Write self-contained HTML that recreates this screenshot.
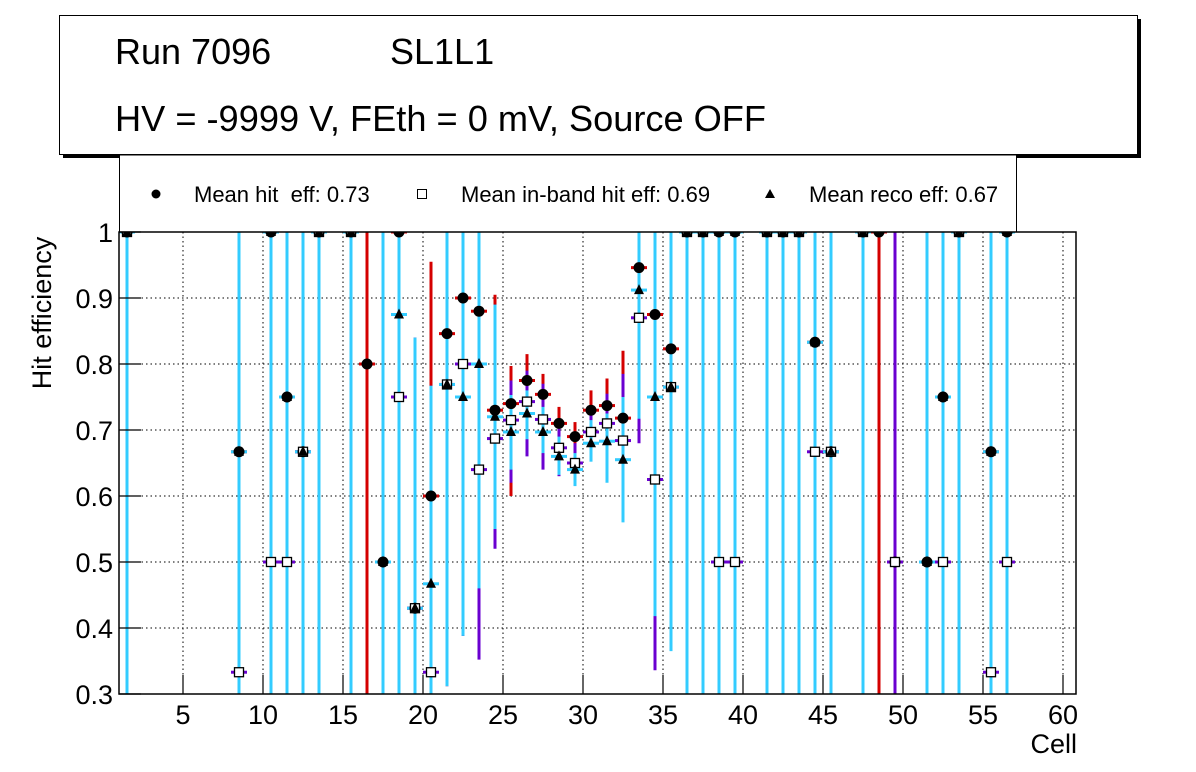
<!DOCTYPE html>
<html><head><meta charset="utf-8"><style>
html,body{margin:0;padding:0;background:#fff;width:1196px;height:772px;overflow:hidden;}
svg{display:block;font-family:"Liberation Sans",Arial,sans-serif;}
</style></head><body>
<svg id="chart" width="1196" height="772" viewBox="0 0 1196 772" xmlns="http://www.w3.org/2000/svg">
  <rect x="0" y="0" width="1196" height="772" fill="#fff"/>
  <g>
    <rect x="63" y="19" width="1078" height="139" fill="#000"/>
    <rect x="59.5" y="15.5" width="1078" height="139" fill="#fff" stroke="#000" stroke-width="1"/>
    <text x="115" y="64" font-size="36">Run 7096</text>
    <text x="390" y="64" font-size="36">SL1L1</text>
    <text x="115" y="131" font-size="36.2">HV = -9999 V, FEth = 0 mV, Source OFF</text>
  </g>
  <g>
    <rect x="119.5" y="155" width="897" height="77" fill="#fff" stroke="#000" stroke-width="1"/>
    <circle cx="156" cy="194" r="4.5" fill="#000"/>
    <text x="194" y="202" font-size="22" xml:space="preserve" style="white-space:pre">Mean hit  eff: 0.73</text>
    <rect x="417.5" y="189.5" width="9" height="9" fill="#fff" stroke="#000"/>
    <text x="461" y="202" font-size="22">Mean in-band hit eff: 0.69</text>
    <polygon points="770,189 765,198 775,198" fill="#000"/>
    <text x="809" y="202" font-size="22">Mean reco eff: 0.67</text>
  </g>
  <defs><clipPath id="plotclip"><rect x="119" y="232" width="958" height="462"/></clipPath></defs>
  <g id="grid"></g>
  <g id="bars" clip-path="url(#plotclip)"></g>
  <g id="marks" clip-path="url(#plotclip)"></g>
  <rect x="119" y="232" width="957" height="462" fill="none" stroke="#000" stroke-width="1.5"/>
  <g id="axes"></g>
  <text x="1077" y="753" font-size="27" text-anchor="end">Cell</text>
  <text transform="translate(51,313) rotate(-90)" font-size="27" text-anchor="middle">Hit efficiency</text>
</svg>
<script>
const cells = [1,8,10,11,12,13,15,16,17,18,19,20,21,22,23,24,25,26,27,28,29,30,31,32,33,34,35,36,37,38,39,41,42,43,44,45,47,48,49,51,52,53,55,56];
const hitVal = [1,.667,1,.75,.667,1,1,.8,.5,1,.43,.6,.846,.9,.88,.73,.74,.775,.754,.71,.69,.73,.737,.718,.946,.875,.823,1,1,1,1,1,1,1,.833,.667,1,1,.5,.5,.75,1,.667,1];
const hitLo  = [0,0,0,0,0,0,0,0,0,0,0,.3,.312,.388,.46,.55,.6,.7,.69,.66,.64,.67,.68,.6,.8,.5,.5,0,0,0,0,0,0,0,0,0,0,0,0,0,0,0,0,0];
const hitHi  = [1,1,1,1,1,1,1,1,1,1,.84,.955,1,1,1,.905,.797,.815,.785,.735,.712,.76,.778,.82,1,1,1,1,1,1,1,1,1,1,1,1,1,1,1,1,1,1,1,1];
const inbVal = [1,.333,.5,.5,.667,1,1,null,null,.75,.43,.333,.769,.8,.64,.687,.715,.743,.716,.673,.65,.697,.71,.684,.87,.625,.765,1,1,.5,.5,1,1,1,.667,.667,1,null,.5,null,.5,1,.333,.5];
const inbLo  = [0,0,0,0,0,0,0,0,0,0,0,0,.312,.388,.352,.52,.62,.66,.64,.63,.62,.66,.66,.57,.68,.336,.4,0,0,0,0,0,0,0,0,0,0,0,0,0,0,0,0,0];
const inbHi  = [1,1,1,1,1,1,1,1,1,1,.84,.767,1,1,1,.89,.775,.79,.77,.715,.68,.735,.755,.785,1,1,1,1,1,1,1,1,1,1,1,1,1,1,1,1,1,1,1,1];
const recoVal= [1,.667,1,.75,.667,1,1,null,.5,.875,.43,.467,.769,.75,.8,.72,.697,.725,.697,.66,.64,.68,.683,.655,.912,.75,.765,1,1,1,1,1,1,1,.833,.667,1,null,null,.5,.75,1,.667,1];
const recoLo = [0,0,0,0,0,0,0,0,0,0,0,0,.312,.388,.46,.55,.64,.686,.665,.632,.615,.652,.62,.56,.717,.418,.365,0,0,0,0,0,0,0,0,0,0,0,0,0,0,0,0,0];
const recoHi = [1,1,1,1,1,1,1,1,1,1,.84,.767,1,1,1,.89,.753,.76,.735,.69,.665,.715,.725,.75,1,1,1,1,1,1,1,1,1,1,1,1,1,1,1,1,1,1,1,1];
const xTicks = [5,10,15,20,25,30,35,40,45,50,55,60];
const yTicks = [0.3,0.4,0.5,0.6,0.7,0.8,0.9,1];
const yTickLabels = ["0.3","0.4","0.5","0.6","0.7","0.8","0.9","1"];

const NS="http://www.w3.org/2000/svg";
const X0=119, PXU=16, YB=694, PXV=660;
function xs(v){return X0+(v-1)*PXU;}
function ys(v){return YB-(v-0.3)*PXV;}
function mk(tag,attrs,parent){const e=document.createElementNS(NS,tag);for(const k in attrs)e.setAttribute(k,attrs[k]);parent.appendChild(e);return e;}
const grid=document.getElementById('grid'),bars=document.getElementById('bars'),marks=document.getElementById('marks'),axes=document.getElementById('axes');

xTicks.forEach(t=>{
  const gl=mk('line',{x1:xs(t),x2:xs(t),y1:232,y2:694,stroke:'#000','stroke-width':1,'stroke-dasharray':'1.5 3'},grid);
  
  
  const tk=mk('line',{x1:xs(t),x2:xs(t),y1:694,y2:675,stroke:'#000','stroke-width':1.2},axes);
  
  
  const lb=mk('text',{x:xs(t),y:724,'font-size':27,'text-anchor':'middle'},axes);
  lb.textContent=String(t);
  
  
});
yTicks.forEach((t,i)=>{
  if(t>0.3&&t<1){
    const gl=mk('line',{x1:119,x2:1076,y1:ys(t),y2:ys(t),stroke:'#000','stroke-width':1,'stroke-dasharray':'1.5 3'},grid);
    
    
  }
  const tk=mk('line',{x1:119,x2:141,y1:ys(t),y2:ys(t),stroke:'#000','stroke-width':1.2},axes);
  
  
  const lb=mk('text',{x:113,y:ys(t)+10,'font-size':27,'text-anchor':'end'},axes);
  lb.textContent=yTickLabels[i];
  
  
});

function drawBars(vals,lo,hi,color,name){
  cells.forEach((c,i)=>{
    if(vals[i]===null)return;
    const cx=xs(c+0.5);
    const v=mk('line',{x1:cx,x2:cx,y1:ys(hi[i]),y2:ys(lo[i]),stroke:color,'stroke-width':3},bars);
    
    
    const h=mk('line',{x1:cx-8,x2:cx+8,y1:ys(vals[i]),y2:ys(vals[i]),stroke:color,'stroke-width':3},bars);
    
    
  });
}
drawBars(hitVal,hitLo,hitHi,'#d40000','hit');
drawBars(inbVal,inbLo,inbHi,'#6a00d0','inband');
drawBars(recoVal,recoLo,recoHi,'#33ccff','reco');

cells.forEach((c,i)=>{
  const cx=xs(c+0.5);
  if(hitVal[i]!==null){
    const m=mk('circle',{cx:cx,cy:ys(hitVal[i]),r:5.5,fill:'#000'},marks);
    
    
  }
  if(inbVal[i]!==null){
    const y=ys(inbVal[i]);
    const m=mk('rect',{x:cx-4.5,y:y-4.5,width:9,height:9,fill:'#fff',stroke:'#000','stroke-width':1.3},marks);
    
    
  }
  if(recoVal[i]!==null){
    const y=ys(recoVal[i]);
    const m=mk('polygon',{points:(cx)+','+(y-6)+' '+(cx-5)+','+(y+4)+' '+(cx+5)+','+(y+4),fill:'#000'},marks);
    
    
  }
});
</script>
</body></html>
